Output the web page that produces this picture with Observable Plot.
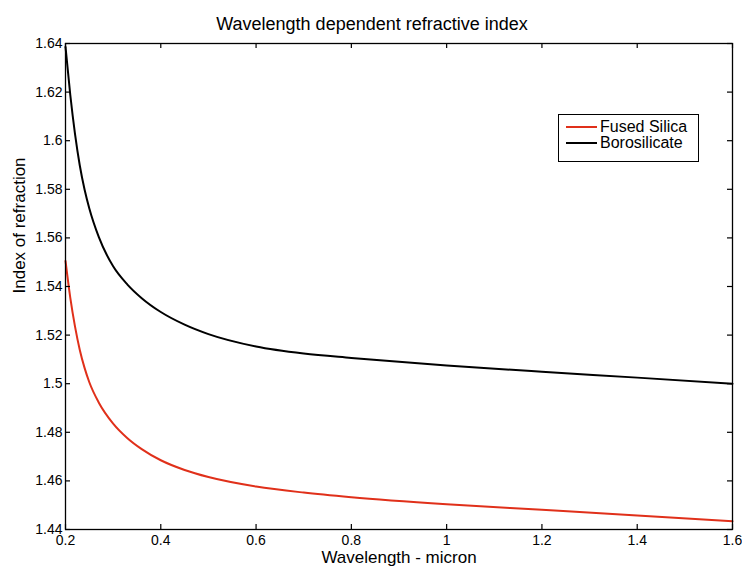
<!DOCTYPE html>
<html><head><meta charset="utf-8">
<script src="https://cdn.jsdelivr.net/npm/d3@7"></script>
<script src="https://cdn.jsdelivr.net/npm/@observablehq/plot@0.6"></script>
<style>
body{margin:0;background:#fff;font-family:"Liberation Sans",Arial,sans-serif}
#wrap{position:relative;width:742px;height:568px}
#legend{position:absolute;left:558px;top:114px;width:139px;height:46px;border:1px solid #000;background:#fff;font-size:16px;line-height:15px;color:#000}
#legend .row{position:absolute;left:0;height:15px;display:flex;align-items:center;white-space:nowrap}
#legend svg{margin-left:7px;margin-right:3px}
</style>
</head><body><div id="wrap"><div id="chart"></div><div id="legend"></div></div>
<script>
const wavelength   = [0.2, 0.21, 0.22, 0.23, 0.24, 0.25, 0.27, 0.3, 0.33, 0.36, 0.4, 0.45, 0.5, 0.6, 0.7, 0.8, 1.0, 1.2, 1.4, 1.6];
const fusedSilica  = [1.5505, 1.5354, 1.5235, 1.5139, 1.5065, 1.5006, 1.4922, 1.4836, 1.4776, 1.4731, 1.4685, 1.4645, 1.4616, 1.4577, 1.4552, 1.4533, 1.4504, 1.4481, 1.4458, 1.4434];
const borosilicate = [1.6386, 1.6189, 1.6027, 1.5898, 1.5799, 1.5721, 1.5603, 1.5483, 1.5408, 1.5352, 1.5295, 1.5243, 1.5204, 1.5153, 1.5124, 1.5106, 1.5075, 1.5049, 1.5025, 1.5000];
const seriesNames  = ["Fused Silica", "Borosilicate"];
const seriesColors = ["#e0301a", "#000000"];
const xTicks = [0.2, 0.4, 0.6, 0.8, 1.0, 1.2, 1.4, 1.6];
const yTicks = [1.44, 1.46, 1.48, 1.5, 1.52, 1.54, 1.56, 1.58, 1.6, 1.62, 1.64];
const xDomain = [0.2, 1.6];
const yDomain = [1.44, 1.64];
const titleText = "Wavelength dependent refractive index";
const xLabel = "Wavelength - micron";
const yLabel = "Index of refraction";

const W = 742, H = 568, mL = 65, mR = 10, mT = 43, mB = 39, tick = 5;
const frameW = W - mL - mR, frameH = H - mT - mB;
const tx = (xDomain[1] - xDomain[0]) * tick / frameW;   // tick length in x units
const ty = (yDomain[1] - yDomain[0]) * tick / frameH;   // tick length in y units

const data = [];
wavelength.forEach((w, i) => {
  data.push({w, n: fusedSilica[i], s: seriesNames[0]});
  data.push({w, n: borosilicate[i], s: seriesNames[1]});
});
const fmt = d => String(+d.toFixed(2));
const font = "Liberation Sans, Arial, sans-serif";

const chart = Plot.plot({
  width: W, height: H,
  marginLeft: mL, marginRight: mR, marginTop: mT, marginBottom: mB,
  style: {fontFamily: font, background: "#fff", color: "#000"},
  x: {domain: xDomain},
  y: {domain: yDomain},
  color: {domain: seriesNames, range: seriesColors},
  marks: [
    Plot.line(data, {x: "w", y: "n", z: "s", stroke: "s", strokeWidth: 2, curve: "monotone-x"}),
    Plot.ruleX(xTicks, {x: d => d, y1: () => yDomain[0], y2: () => yDomain[0] + ty, stroke: "#000", strokeWidth: 1.2}),
    Plot.ruleX(xTicks, {x: d => d, y1: () => yDomain[1], y2: () => yDomain[1] - ty, stroke: "#000", strokeWidth: 1.2}),
    Plot.ruleY(yTicks, {y: d => d, x1: () => xDomain[0], x2: () => xDomain[0] + tx, stroke: "#000", strokeWidth: 1.2}),
    Plot.ruleY(yTicks, {y: d => d, x1: () => xDomain[1], x2: () => xDomain[1] - tx, stroke: "#000", strokeWidth: 1.2}),
    Plot.frame({stroke: "#000", strokeWidth: 1.3}),
    Plot.axisX(xTicks, {anchor: "bottom", tickSize: 0, tickPadding: 6, tickFormat: fmt, fontSize: 14, label: null}),
    Plot.axisY(yTicks, {anchor: "left", tickSize: 0, tickPadding: 3, tickFormat: fmt, fontSize: 14, label: null}),
    Plot.text([titleText], {frameAnchor: "top", text: d => d, dy: -19, dx: -27, fontSize: 18, lineAnchor: "middle"}),
    Plot.text([xLabel], {frameAnchor: "bottom", text: d => d, dy: 28, fontSize: 17, lineAnchor: "middle"}),
    Plot.text([yLabel], {frameAnchor: "left", text: d => d, dx: -46, dy: 7, rotate: -90, fontSize: 17, lineAnchor: "middle"})
  ]
});
document.getElementById("chart").appendChild(chart);

const legend = document.getElementById("legend");
seriesNames.forEach((name, i) => {
  const row = document.createElement("div");
  row.className = "row";
  row.style.top = (4 + i * 16) + "px";
  row.innerHTML = `<svg width="31" height="4"><line x1="0" x2="31" y1="2" y2="2" stroke="${seriesColors[i]}" stroke-width="2"/></svg><span>${name}</span>`;
  legend.appendChild(row);
});
</script>
</body></html>
